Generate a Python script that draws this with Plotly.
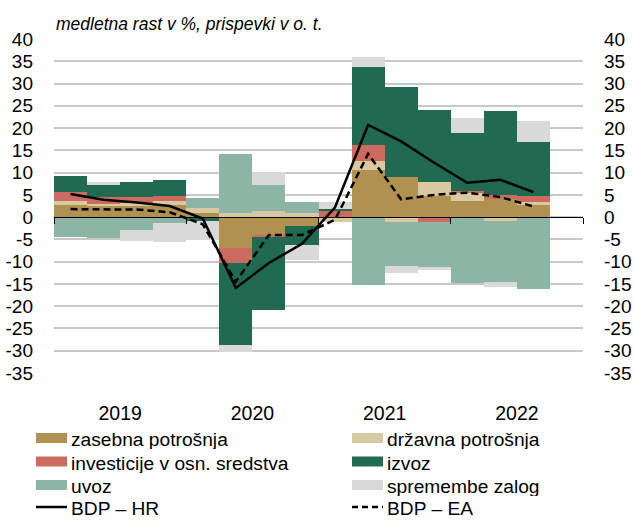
import plotly.graph_objects as go

quarters = ["2019Q1", "2019Q2", "2019Q3", "2019Q4",
            "2020Q1", "2020Q2", "2020Q3", "2020Q4",
            "2021Q1", "2021Q2", "2021Q3", "2021Q4",
            "2022Q1", "2022Q2", "2022Q3", "2022Q4"]
years = ["2019", "2020", "2021", "2022"]

zasebna = [2.8, 2.4, 2.6, 2.8, 0.9, -7.0, -3.9, -2.1, 0.0, 10.6, 9.1, 4.7, 3.6, 4.1, 2.8, None]
drzavna = [0.75, 0.6, 0.6, 0.75, 1.2, 1.0, 1.3, 1.0, -1.0, 1.9, -1.2, 3.1, 1.9, -0.8, 0.5, None]
investicije = [2.1, 1.5, 1.3, 1.3, -0.3, -3.2, -0.6, 0.0, 1.6, 3.6, 0.0, -1.1, 0.3, 0.9, 1.5, None]
izvoz = [3.5, 2.8, 3.3, 3.45, -0.6, -18.6, -16.3, -4.1, 0.3, 17.6, 20.1, 16.3, 13.2, 18.85, 12.1, None]
uvoz = [-4.4, -4.7, -2.8, -1.3, 2.3, 13.2, 6.0, 2.4, 0.0, -15.2, -9.7, -10.1, -14.7, -13.7, -16.2, None]
zalog = [0.0, 0.7, -2.6, -4.35, -4.15, -1.5, 2.8, -3.4, 1.6, 2.3, -1.6, -0.6, 3.3, -1.1, 4.8, None]
bdp_hr = [5.2, 3.9, 3.3, 2.5, -0.3, -15.9, -10.3, -6.0, 2.2, 20.7, 17.0, 12.2, 7.7, 8.4, 5.6, None]
bdp_ea = [1.8, 1.7, 1.7, 1.1, -1.6, -14.5, -4.0, -4.0, -0.6, 14.2, 4.0, 5.0, 5.5, 4.5, 2.4, None]

y_ticks = list(range(-35, 45, 5))

FONT = "Liberation Sans Narrow, Arial Narrow, Liberation Sans, Arial, sans-serif"

bar_series = [
    ("zasebna potrošnja", zasebna, "#B09150"),
    ("državna potrošnja", drzavna, "#D9C9A3"),
    ("investicije v osn. sredstva", investicije, "#CD6B5F"),
    ("izvoz", izvoz, "#1F6A50"),
    ("uvoz", uvoz, "#8DB5A6"),
    ("spremembe zalog", zalog, "#D9D9D9"),
]

x_pos = list(range(len(quarters)))

fig = go.Figure()
for name, vals, col in bar_series:
    fig.add_trace(go.Bar(x=x_pos, y=vals, name=name, marker=dict(color=col, line=dict(width=0)),
                         width=1.0, showlegend=False, customdata=quarters,
                         hovertemplate="%{customdata}: %{y}<extra>" + name + "</extra>"))

fig.add_trace(go.Scatter(x=x_pos, y=bdp_hr, name="BDP – HR", mode="lines",
                         line=dict(color="black", width=2.5), xaxis="x2", yaxis="y2",
                         showlegend=False))
fig.add_trace(go.Scatter(x=x_pos, y=bdp_ea, name="BDP – EA", mode="lines",
                         line=dict(color="black", width=2.5, dash="7px,4px"), xaxis="x2", yaxis="y2",
                         showlegend=False))

yr = [-35, 40]
xr = [-0.5, 15.5]

fig.update_layout(
    width=633, height=520,
    margin=dict(l=54, r=50, t=39, b=147, pad=0, autoexpand=False),
    paper_bgcolor="white", plot_bgcolor="white",
    barmode="relative", bargap=0,
    font=dict(family=FONT, size=19, color="black"),
    xaxis=dict(range=xr, tickvals=[1.5, 5.5, 9.5, 13.5], ticktext=years,
               showgrid=False, zeroline=False, showline=False, ticks="",
               ticklabelstandoff=26, tickfont=dict(size=19.5), automargin=False),
    xaxis2=dict(range=xr, overlaying="x", anchor="free",
                position=(0 - yr[0]) / (yr[1] - yr[0]),
                tickvals=[-0.5, 3.5, 7.5, 11.5, 15.5], ticks="outside", ticklen=6,
                tickcolor="black", tickwidth=1, showticklabels=False,
                showline=True, linecolor="black", linewidth=1,
                showgrid=False, zeroline=False, layer="above traces", automargin=False),
    yaxis=dict(range=yr, tickvals=y_ticks, ticktext=[str(v) for v in y_ticks],
               showgrid=True, gridcolor="#C8C8C8", gridwidth=1.5,
               zeroline=False, showline=False, ticks="",
               ticklabelstandoff=20, tickfont=dict(size=19), automargin=False),
    yaxis2=dict(range=yr, overlaying="y", side="right", anchor="x",
                tickvals=y_ticks, ticktext=[str(v) for v in y_ticks],
                showgrid=False, zeroline=False, showline=False, ticks="",
                ticklabelstandoff=20, tickfont=dict(size=19), automargin=False),
)

# title
fig.add_annotation(text="<i>medletna rast v %, prispevki v o. t.</i>", xref="paper", yref="paper",
                   x=0, y=1, xanchor="left", yanchor="middle", yshift=(39 - 24),
                   showarrow=False, font=dict(size=17.5, family=FONT))

# custom legend (pixel offsets from the plot area's bottom-left corner)
PLOT_L, PLOT_B = 54, 373
legend_items = [
    ("zasebna potrošnja", "#B09150", "rect"),
    ("državna potrošnja", "#D9C9A3", "rect"),
    ("investicije v osn. sredstva", "#CD6B5F", "rect"),
    ("izvoz", "#1F6A50", "rect"),
    ("uvoz", "#8DB5A6", "rect"),
    ("spremembe zalog", "#D9D9D9", "rect"),
    ("BDP – HR", "black", "solid"),
    ("BDP – EA", "black", "dash"),
]
row_y = [438.0, 461.5, 485.0, 507.0]
col_x = [36, 352]
for i, (label, col, kind) in enumerate(legend_items):
    r, c = divmod(i, 2)
    cy = row_y[r]
    x0 = col_x[c] - PLOT_L
    x1 = x0 + 31
    if kind == "rect":
        fig.add_shape(type="rect", xref="paper", yref="paper", xsizemode="pixel", ysizemode="pixel",
                      xanchor=0, yanchor=0, x0=x0, x1=x1, y0=PLOT_B - cy - 5, y1=PLOT_B - cy + 5,
                      fillcolor=col, line=dict(width=0))
    else:
        fig.add_shape(type="line", xref="paper", yref="paper", xsizemode="pixel", ysizemode="pixel",
                      xanchor=0, yanchor=0, x0=x0, x1=x1, y0=PLOT_B - cy, y1=PLOT_B - cy,
                      line=dict(color=col, width=2.5, dash="solid" if kind == "solid" else "6px,4px"))
    fig.add_annotation(text=label, xref="paper", yref="paper", x=0, y=0,
                       xanchor="left", yanchor="middle", height=20, borderpad=0,
                       xshift=x1 + 3, yshift=PLOT_B - cy - 1,
                       showarrow=False, font=dict(size=19.2, family=FONT))

# remove the default page margin so the 633x520 figure fills the window exactly
fig.write_html("out.html", config={"displayModeBar": False},
               post_script="document.body.style.margin='0';")
